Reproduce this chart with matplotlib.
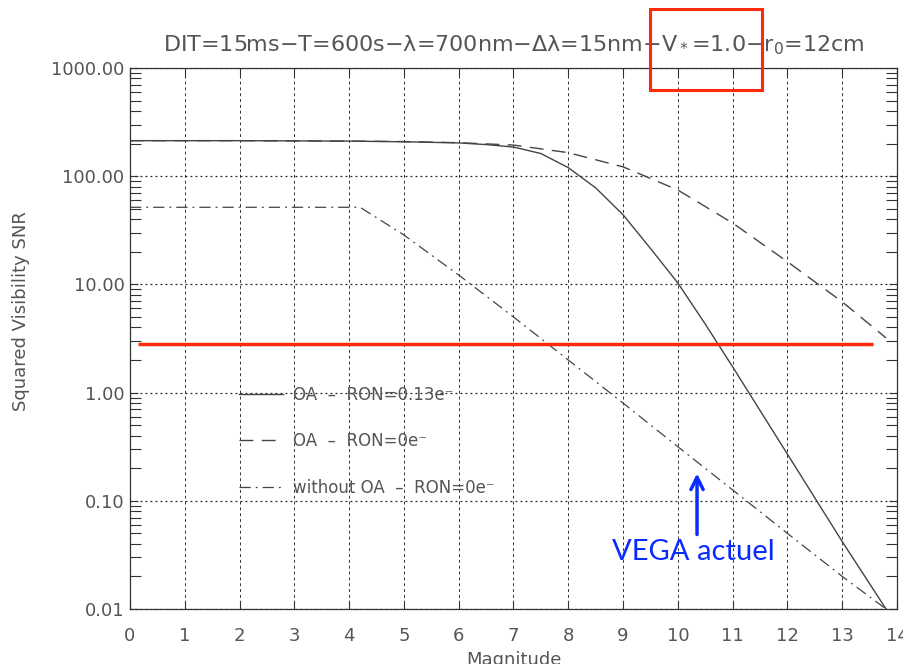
import numpy as np
import matplotlib
matplotlib.use('Agg')
import matplotlib.pyplot as plt
from matplotlib.ticker import LogLocator, FixedLocator, FormatStrFormatter
from matplotlib.patches import Rectangle

# magnitudes and squared visibility SNR
mag_oa = [0, 1, 2, 3, 4, 5, 6, 6.5, 7, 7.5, 8, 8.5, 9, 9.5, 10, 10.5, 11, 12, 13, 13.8]
snr_oa = [213, 213, 213, 212, 211, 208, 203, 196, 186, 162, 120, 78, 44, 21.5, 10.3, 4.3, 1.73, 0.27, 0.042, 0.01]

mag_oa0 = [0, 1, 2, 3, 4, 5, 6, 7, 8, 9, 10, 11, 12, 13, 13.8]
snr_oa0 = [213, 213, 213, 212, 211, 209, 204, 194, 165, 122, 74.5, 36.9, 16.2, 6.9, 3.2]

mag_noa = [0, 1, 2, 3, 4, 4.2, 5, 6, 7, 8, 9, 10, 11, 12, 13, 13.8]
snr_noa = [51.6, 51.6, 51.6, 51.6, 51.6, 51.6, 28.6, 12.2, 5.0, 2.0, 0.80, 0.316, 0.126, 0.05, 0.02, 0.01]

labels = ['OA  –  RON=0.13e⁻', 'OA  –  RON=0e⁻', 'without OA  –  RON=0e⁻']

limit_mag = [0.15, 13.56]
limit_snr = 2.81

vega_mag = 10.35
vega_tip = 0.19
vega_tail = 0.046

title = 'DIT=15ms−T=600s−λ=700nm−Δλ=15nm−V$_*$=1.0−r$_0$=12cm'

grey = '#555555'
line_c = '#444444'

fig = plt.figure(figsize=(9.04, 6.64), dpi=100)
ax = fig.add_axes([130/904, 1 - 609/664, 767/904, 541/664])

l1, = ax.plot(mag_oa, snr_oa, '-', c=line_c, lw=1.0)
l2, = ax.plot(mag_oa0, snr_oa0, c=line_c, lw=1.0, dashes=(10, 6))
l3, = ax.plot(mag_noa, snr_noa, c=line_c, lw=0.9, dashes=(9, 4, 1.5, 4))

ax.plot(limit_mag, [limit_snr, limit_snr], c='#ff2a0a', lw=2.5, solid_capstyle='butt')

ax.set_yscale('log')
ax.set_xlim(0, 14)
ax.set_ylim(0.01, 1000)

ax.xaxis.set_major_locator(FixedLocator(range(0, 15)))
ax.yaxis.set_major_locator(FixedLocator([0.01, 0.1, 1, 10, 100, 1000]))
ax.yaxis.set_major_formatter(FormatStrFormatter('%.2f'))
ax.yaxis.set_minor_locator(LogLocator(base=10, subs=np.arange(2, 10)))

ax.tick_params(which='both', direction='in', top=True, right=True, colors='#333333',
               labelcolor=grey, labelsize=13)
ax.tick_params(which='major', length=6, width=0.8)
ax.tick_params(which='minor', length=8, width=0.8)
ax.tick_params(axis='x', pad=13)
ax.tick_params(axis='y', pad=4)

ax.grid(True, axis='x', which='major', c='#333333', lw=0.7, dashes=(3, 3))
ax.grid(True, axis='y', which='major', c='#222222', lw=0.9, dashes=(1.5, 2.5))

for s in ax.spines.values():
    s.set_color('#333333')
    s.set_linewidth(0.9)

ax.set_xlabel('Magnitude', fontsize=13, color=grey, labelpad=4)
ax.set_ylabel('Squared Visibility SNR', fontsize=13, color=grey)
ax.yaxis.set_label_coords(-0.13, 0.55)
ax.set_title(title, fontsize=16, color=grey, pad=12)

ax.legend([l1, l2, l3], labels, loc='upper left', bbox_to_anchor=(0.123, 0.44),
          frameon=False, fontsize=12, handlelength=2.6, handletextpad=0.6,
          labelspacing=1.7, labelcolor=grey)

ax.annotate('', xy=(vega_mag, vega_tip), xytext=(vega_mag, vega_tail),
            arrowprops=dict(arrowstyle='->', color='#0a2bff', lw=2.5,
                            mutation_scale=22))
ax.text(vega_mag - 0.07, vega_tail * 0.97, 'VEGA actuel', color='#0a2bff',
        fontsize=21, family='Lato', ha='center', va='top')

fig.patches.append(Rectangle((650/904, 1 - 90/664), 112/904, 81/664,
                             transform=fig.transFigure, fill=False,
                             ec='#ff2a0a', lw=2.2))

fig.savefig('out.png', dpi=100)
